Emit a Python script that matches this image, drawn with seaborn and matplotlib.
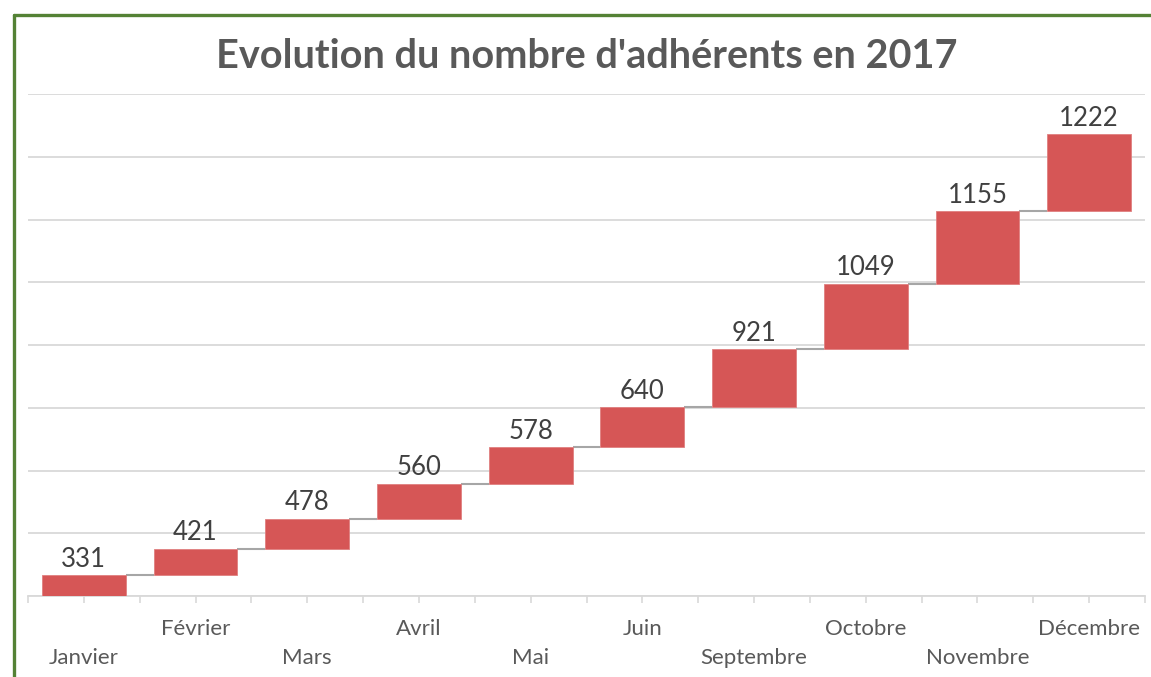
import numpy as np
import matplotlib
matplotlib.use("Agg")
import matplotlib.pyplot as plt
from matplotlib.lines import Line2D
import seaborn as sns

# Données (valeurs mensuelles affichées dans le graphique en cascade)
mois = ["Janvier", "Février", "Mars", "Avril", "Mai", "Juin",
        "Septembre", "Octobre", "Novembre", "Décembre"]
adherents = [331, 421, 478, 560, 578, 640, 921, 1049, 1155, 1222]

titre = "Evolution du nombre d'adhérents en 2017"

cumul = np.cumsum(adherents)
base = np.concatenate([[0], cumul[:-1]])

sns.set_theme(style="white")
plt.rcParams["font.family"] = ["Lato", "DejaVu Sans"]

fig = plt.figure(figsize=(11.51, 6.77), dpi=100)
ax = fig.add_axes([28 / 1151, 81 / 677, (1145 - 28) / 1151, (596 - 94) / 677])

rouge = "#d65656"
sns.barplot(x=mois, y=adherents, bottom=base, color=rouge, width=0.75,
            saturation=1, ax=ax, zorder=3, edgecolor="#e08080", linewidth=0.6)

# Connecteurs entre les barres
for i in range(len(mois) - 1):
    ax.plot([i + 0.375, i + 1 - 0.375], [cumul[i], cumul[i]],
            color="#a6a6a6", lw=1.5, zorder=2, solid_capstyle="butt")

# Etiquettes de valeurs
for i, v in enumerate(adherents):
    ax.annotate(str(v), (i, cumul[i]), xytext=(0, 2.5), textcoords="offset points",
                ha="center", va="bottom", fontsize=18.5, color="#404040")

ax.set_xlim(-0.5, len(mois) - 0.5)
ax.set_ylim(0, 8000)
ax.set_yticks(np.arange(0, 8001, 1000))
ax.set_yticklabels([])
ax.tick_params(axis="y", length=0)
ax.grid(axis="y", color="#d9d9d9", lw=1.3, zorder=0)
ax.set_axisbelow(True)
for s in ["left", "right", "top"]:
    ax.spines[s].set_visible(False)
ax.spines["bottom"].set_color("#d9d9d9")
ax.spines["bottom"].set_linewidth(1.3)

ax.set_xticks(range(len(mois)))
ax.set_xticks(np.arange(-0.5, len(mois)), minor=True)
ax.set_xticklabels(mois, fontsize=16, color="#595959")
ax.tick_params(axis="x", which="both", direction="out", length=5, width=1.2,
               color="#d9d9d9", bottom=True)
for i, tick in enumerate(ax.xaxis.get_major_ticks()):
    tick.set_pad(32.5 if i % 2 == 0 else 11.5)
ax.set_xlabel("")
ax.set_ylabel("")

fig.text(587 / 1151, 1 - 56 / 677, titre, ha="center", va="center",
         fontsize=28.5, fontweight="bold", color="#595959")

# Cadre vert
vert = "#548235"
fig.add_artist(Line2D([14 / 1151, 14 / 1151], [-0.05, 1 - 15 / 677],
                      transform=fig.transFigure, color=vert, lw=2.4))
fig.add_artist(Line2D([14 / 1151, 1.05], [1 - 15 / 677, 1 - 15 / 677],
                      transform=fig.transFigure, color=vert, lw=2.4))

fig.savefig("out.png", dpi=100, facecolor="white")
